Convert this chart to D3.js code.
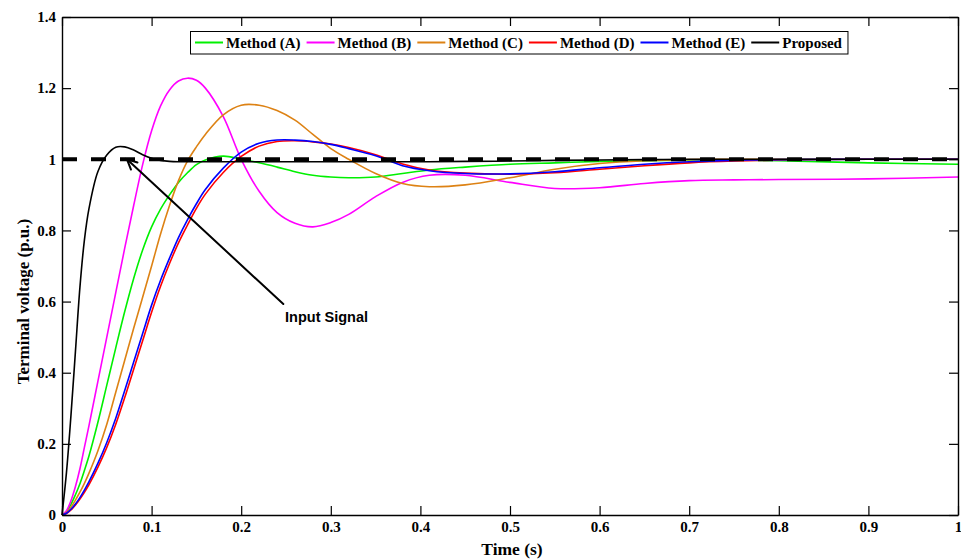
<!DOCTYPE html>
<html>
<head>
<meta charset="utf-8">
<script src="https://cdn.jsdelivr.net/npm/d3@7"></script>
<style>
  body { margin: 0; background: #fff; }
  svg { display: block; }
</style>
</head>
<body>
<svg id="chart" width="961" height="560"></svg>
<script>
// Sample times (s) shared by all responses
const time = [0, 0.005, 0.01, 0.015, 0.02, 0.025, 0.03, 0.04, 0.05, 0.06, 0.07, 0.08, 0.09, 0.1,
  0.11, 0.12, 0.13, 0.14, 0.15, 0.16, 0.18, 0.2, 0.22, 0.24, 0.26, 0.28, 0.3, 0.32, 0.35, 0.38,
  0.41, 0.45, 0.5, 0.55, 0.6, 0.65, 0.7, 0.75, 0.8, 0.9, 1.0];

// Terminal voltage responses (p.u.)
const methodA = [0, 0.01, 0.03, 0.057, 0.088, 0.125, 0.165, 0.26, 0.365, 0.47, 0.572, 0.665, 0.745, 0.81,
  0.86, 0.9, 0.935, 0.962, 0.985, 0.998, 1.009, 1.0, 0.99, 0.978, 0.965, 0.955, 0.95, 0.948, 0.95, 0.96,
  0.97, 0.978, 0.986, 0.99, 0.994, 0.996, 0.998, 0.998, 0.996, 0.99, 0.986];
const methodB = [0, 0.012, 0.04, 0.08, 0.13, 0.19, 0.25, 0.375, 0.5, 0.625, 0.75, 0.87, 0.985, 1.08,
  1.15, 1.195, 1.22, 1.228, 1.222, 1.2, 1.12, 1.0, 0.91, 0.85, 0.82, 0.81, 0.822, 0.845, 0.895, 0.935,
  0.955, 0.955, 0.935, 0.918, 0.92, 0.932, 0.94, 0.942, 0.943, 0.945, 0.95];
const methodC = [0, 0.007, 0.022, 0.042, 0.064, 0.089, 0.117, 0.18, 0.255, 0.345, 0.435, 0.525, 0.612, 0.7,
  0.79, 0.87, 0.94, 0.995, 1.035, 1.07, 1.125, 1.152, 1.152, 1.137, 1.11, 1.07, 1.03, 1.0, 0.96, 0.932,
  0.923, 0.928, 0.948, 0.972, 0.988, 0.996, 0.999, 1.0, 1.0, 1.0, 1.0];
const methodD = [0, 0.004, 0.014, 0.028, 0.045, 0.064, 0.085, 0.134, 0.19, 0.255, 0.33, 0.41, 0.49, 0.57,
  0.643, 0.707, 0.765, 0.815, 0.862, 0.902, 0.963, 1.008, 1.037, 1.05, 1.052, 1.049, 1.043, 1.033, 1.013, 0.987,
  0.97, 0.961, 0.958, 0.962, 0.972, 0.982, 0.99, 0.995, 0.998, 1.0, 1.0];
const methodE = [0, 0.005, 0.016, 0.031, 0.049, 0.07, 0.093, 0.145, 0.204, 0.272, 0.35, 0.43, 0.51, 0.59,
  0.66, 0.722, 0.78, 0.83, 0.875, 0.915, 0.975, 1.02, 1.045, 1.054, 1.054, 1.05, 1.042, 1.03, 1.01, 0.982,
  0.968, 0.96, 0.959, 0.965, 0.976, 0.986, 0.993, 0.997, 0.999, 1.0, 1.0];
const proposed = [0, 0.12, 0.28, 0.46, 0.64, 0.773, 0.86, 0.965, 1.012, 1.034, 1.035, 1.026, 1.013, 1.003,
  0.997, 0.994, 0.993, 0.993, 0.993, 0.993, 0.993, 0.993, 0.993, 0.993, 0.993, 0.993, 0.993, 0.993, 0.993, 0.993,
  0.993, 0.994, 0.995, 0.997, 0.998, 0.999, 1.0, 1.0, 1.0, 1.0, 1.0];

// Reference step input
const inputTime = [0, 1];
const inputSignal = [1, 1];

const seriesNames = ["Method (A)", "Method (B)", "Method (C)", "Method (D)", "Method (E)", "Proposed"];
const seriesValues = [methodA, methodB, methodC, methodD, methodE, proposed];
const seriesColors = ["#00f000", "#ff00ff", "#dd8214", "#ff0000", "#0000ff", "#000000"];

const xTicks = [0, 0.1, 0.2, 0.3, 0.4, 0.5, 0.6, 0.7, 0.8, 0.9, 1];
const xTickLabels = ["0", "0.1", "0.2", "0.3", "0.4", "0.5", "0.6", "0.7", "0.8", "0.9", "1"];
const yTicks = [0, 0.2, 0.4, 0.6, 0.8, 1, 1.2, 1.4];
const yTickLabels = ["0", "0.2", "0.4", "0.6", "0.8", "1", "1.2", "1.4"];

// Annotation: arrow from the label to the step input
const annotationText = "Input Signal";
const arrowTail = [0.247, 0.593];
const arrowHead = [0.0725, 1.0];
const annotationAt = [0.249, 0.543];

const svg = d3.select("#chart");
const W = 961, H = 560;
const plot = { left: 62, right: 958, top: 17, bottom: 515 };
const serif = "'Liberation Serif', 'Times New Roman', Times, serif";

svg.append("rect").attr("width", W).attr("height", H).attr("fill", "#fff");

const x = d3.scaleLinear().domain([0, 1]).range([plot.left, plot.right]);
const y = d3.scaleLinear().domain([0, 1.4]).range([plot.bottom, plot.top]);

// Response curves
const line = d3.line()
  .x((d, i) => x(time[i]))
  .y(d => y(d))
  .curve(d3.curveCatmullRom.alpha(0.5));

const curves = svg.append("g").attr("fill", "none");
seriesValues.forEach((vals, k) => {
  curves.append("path")
    .attr("d", line(vals))
    .attr("stroke", seriesColors[k])
    .attr("stroke-width", 1.6)
    .attr("stroke-linejoin", "round");
});

// Step input (thick dashed)
const inputLine = d3.line().x((d, i) => x(inputTime[i])).y(d => y(d));
svg.append("path")
  .attr("d", inputLine(inputSignal))
  .attr("fill", "none")
  .attr("stroke", "#000")
  .attr("stroke-width", 4)
  .attr("stroke-dasharray", "15,14");

// Axes (ticks pointing inward on all four sides)
const tickLen = 9;
function styleAxis(g) {
  g.selectAll(".domain").attr("stroke", "#000").attr("stroke-width", 1.4);
  g.selectAll(".tick line").attr("stroke", "#000").attr("stroke-width", 1.2);
  g.selectAll("text")
    .attr("font-family", serif)
    .attr("font-weight", "bold")
    .attr("font-size", 15)
    .attr("fill", "#000");
}

svg.append("g")
  .attr("transform", `translate(0,${plot.bottom})`)
  .call(d3.axisBottom(x).tickValues(xTicks).tickFormat((d, i) => xTickLabels[i])
    .tickSizeInner(-tickLen).tickSizeOuter(0).tickPadding(6.5))
  .call(styleAxis);

svg.append("g")
  .attr("transform", `translate(0,${plot.top})`)
  .call(d3.axisTop(x).tickValues(xTicks).tickFormat("")
    .tickSizeInner(-tickLen).tickSizeOuter(0))
  .call(styleAxis);

svg.append("g")
  .attr("transform", `translate(${plot.left},0)`)
  .call(d3.axisLeft(y).tickValues(yTicks).tickFormat((d, i) => yTickLabels[i])
    .tickSizeInner(-tickLen).tickSizeOuter(0).tickPadding(6))
  .call(styleAxis);

svg.append("g")
  .attr("transform", `translate(${plot.right},0)`)
  .call(d3.axisRight(y).tickValues(yTicks).tickFormat("")
    .tickSizeInner(-tickLen).tickSizeOuter(0))
  .call(styleAxis);

// Axis titles
svg.append("text")
  .attr("x", (plot.left + plot.right) / 2 + 2)
  .attr("y", 555)
  .attr("text-anchor", "middle")
  .attr("font-family", serif)
  .attr("font-weight", "bold")
  .attr("font-size", 17.5)
  .text("Time (s)");

svg.append("text")
  .attr("transform", `translate(29,${y(0.6)}) rotate(-90)`)
  .attr("text-anchor", "middle")
  .attr("font-family", serif)
  .attr("font-weight", "bold")
  .attr("font-size", 17)
  .text("Terminal voltage (p.u.)");

// Annotation arrow
const tx = x(arrowTail[0]), ty = y(arrowTail[1]);
const hx = x(arrowHead[0]), hy = y(arrowHead[1]);
const ang = Math.atan2(ty - hy, tx - hx);
const headLen = 11, headSpread = 0.45;
const ann = svg.append("g").attr("stroke", "#000").attr("stroke-width", 2).attr("fill", "none")
  .attr("stroke-linecap", "round");
ann.append("line").attr("x1", tx).attr("y1", ty).attr("x2", hx).attr("y2", hy);
ann.append("path")
  .attr("d", `M${hx + headLen * Math.cos(ang + headSpread)},${hy + headLen * Math.sin(ang + headSpread)}` +
    `L${hx},${hy}` +
    `L${hx + headLen * Math.cos(ang - headSpread)},${hy + headLen * Math.sin(ang - headSpread)}`);

svg.append("text")
  .attr("x", x(annotationAt[0]))
  .attr("y", y(annotationAt[1]))
  .attr("font-family", "'Liberation Sans', Arial, Helvetica, sans-serif")
  .attr("font-weight", "bold")
  .attr("font-size", 14.5)
  .attr("fill", "#000")
  .text(annotationText);

// Legend (single row, boxed)
const legend = svg.append("g");
const legendBox = legend.append("rect")
  .attr("fill", "#fff").attr("stroke", "#000").attr("stroke-width", 1);
const legY = 42.5;
let cx = 195;
seriesNames.forEach((name, k) => {
  legend.append("line")
    .attr("x1", cx).attr("x2", cx + 28)
    .attr("y1", legY).attr("y2", legY)
    .attr("stroke", seriesColors[k]).attr("stroke-width", 2);
  const t = legend.append("text")
    .attr("x", cx + 31)
    .attr("y", legY + 5)
    .attr("font-family", serif)
    .attr("font-weight", "bold")
    .attr("font-size", 15)
    .attr("fill", "#000")
    .text(name);
  cx += 31 + t.node().getComputedTextLength() + 6;
});
legendBox.attr("x", 190.5).attr("y", 31.5).attr("width", cx - 190.5).attr("height", 22.5);
</script>
</body>
</html>
